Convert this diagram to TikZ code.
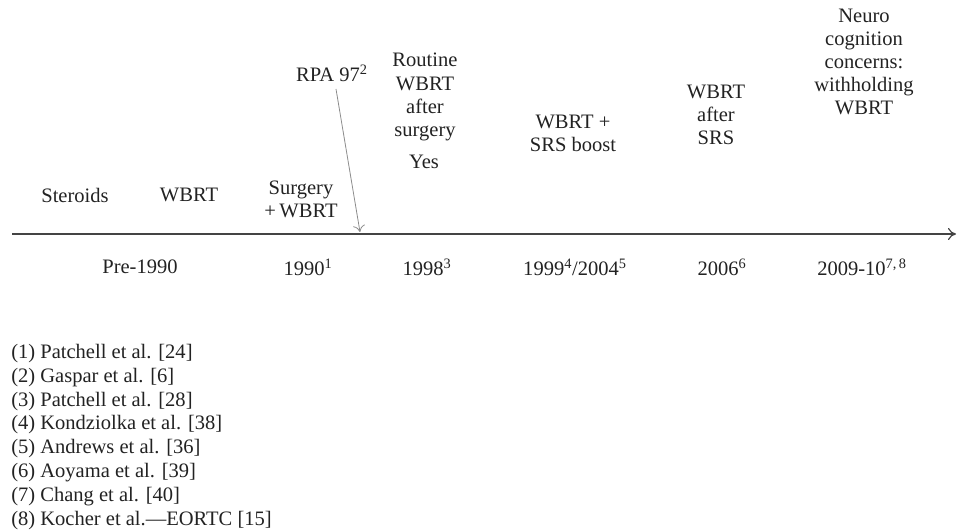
\documentclass[tikz,border=0pt]{standalone}
\usepackage{fontspec}
\setmainfont{Liberation Serif}
\usetikzlibrary{arrows.meta}

\begin{document}
\begin{tikzpicture}[x=0.75pt,y=0.75pt,yscale=-1,xscale=1,
  every node/.style={inner sep=0.75pt,color={rgb,255:red,34;green,34;blue,34},font=\fontsize{15.4}{17.3}\selectfont,align=center}]
\useasboundingbox (0,0) rectangle (957,531);

%Shape: Axis [id:axis]
\coordinate (axL) at (12,234);
\coordinate (axR) at (956,234);
\draw [color={rgb, 255:red, 68; green, 68; blue, 68 }, line width=0.9pt, -{To[length=6pt,width=9pt]}] (axL) -- (axR);

% Text Node
\draw (75,195) node (steroids) {Steroids};
% Text Node
\draw (189,195) node (wbrt) {WBRT};
% Text Node
\draw (301,199) node (surg) {Surgery\\+\,WBRT};
% Text Node
\draw (332,73) node (rpa) {RPA 97\textsuperscript{2}};
% Text Node
\draw (425,97) node (routine) {Routine\\WBRT\\after\\surgery};
% Text Node
\draw (424,162) node (yes) {Yes};
% Text Node
\draw (573,133) node (boost) {WBRT +\\SRS boost};
% Text Node
\draw (716,115) node (aftersrs) {WBRT\\after\\SRS};
% Text Node
\draw (864,62) node (neuro) {Neuro\\cognition\\concerns:\\withholding\\WBRT};

% Text Node
\draw (140,267) node (pre) {Pre-1990};
% Text Node
\draw (308,267) node (y1990) {1990\textsuperscript{1}};
% Text Node
\draw (427,267) node (y1998) {1998\textsuperscript{3}};
% Text Node
\draw (575,267) node (y1999) {1999\textsuperscript{4}/2004\textsuperscript{5}};
% Text Node
\draw (722,267) node (y2006) {2006\textsuperscript{6}};
% Text Node
\draw (862,267) node (y2009) {2009-10\textsuperscript{7,\,8}};

%Shape: Arrow [id:rpaarrow]
\coordinate (rpastart) at (336,89);
\coordinate (rpaend) at (360,232);
\draw [color={rgb, 255:red, 140; green, 140; blue, 140 }, line width=0.6pt, -{To[length=5pt,width=9pt]}] (rpastart) -- (rpaend);

% Text Node
\draw (10,343) node [anchor=north west,align=left,font=\fontsize{15.4}{17.85}\selectfont] (refs) {(1) Patchell et al. [24]\\
(2) Gaspar et al. [6]\\
(3) Patchell et al. [28]\\
(4) Kondziolka et al. [38]\\
(5) Andrews et al. [36]\\
(6) Aoyama et al. [39]\\
(7) Chang et al. [40]\\
(8) Kocher et al.---EORTC [15]};

\end{tikzpicture}
\end{document}
